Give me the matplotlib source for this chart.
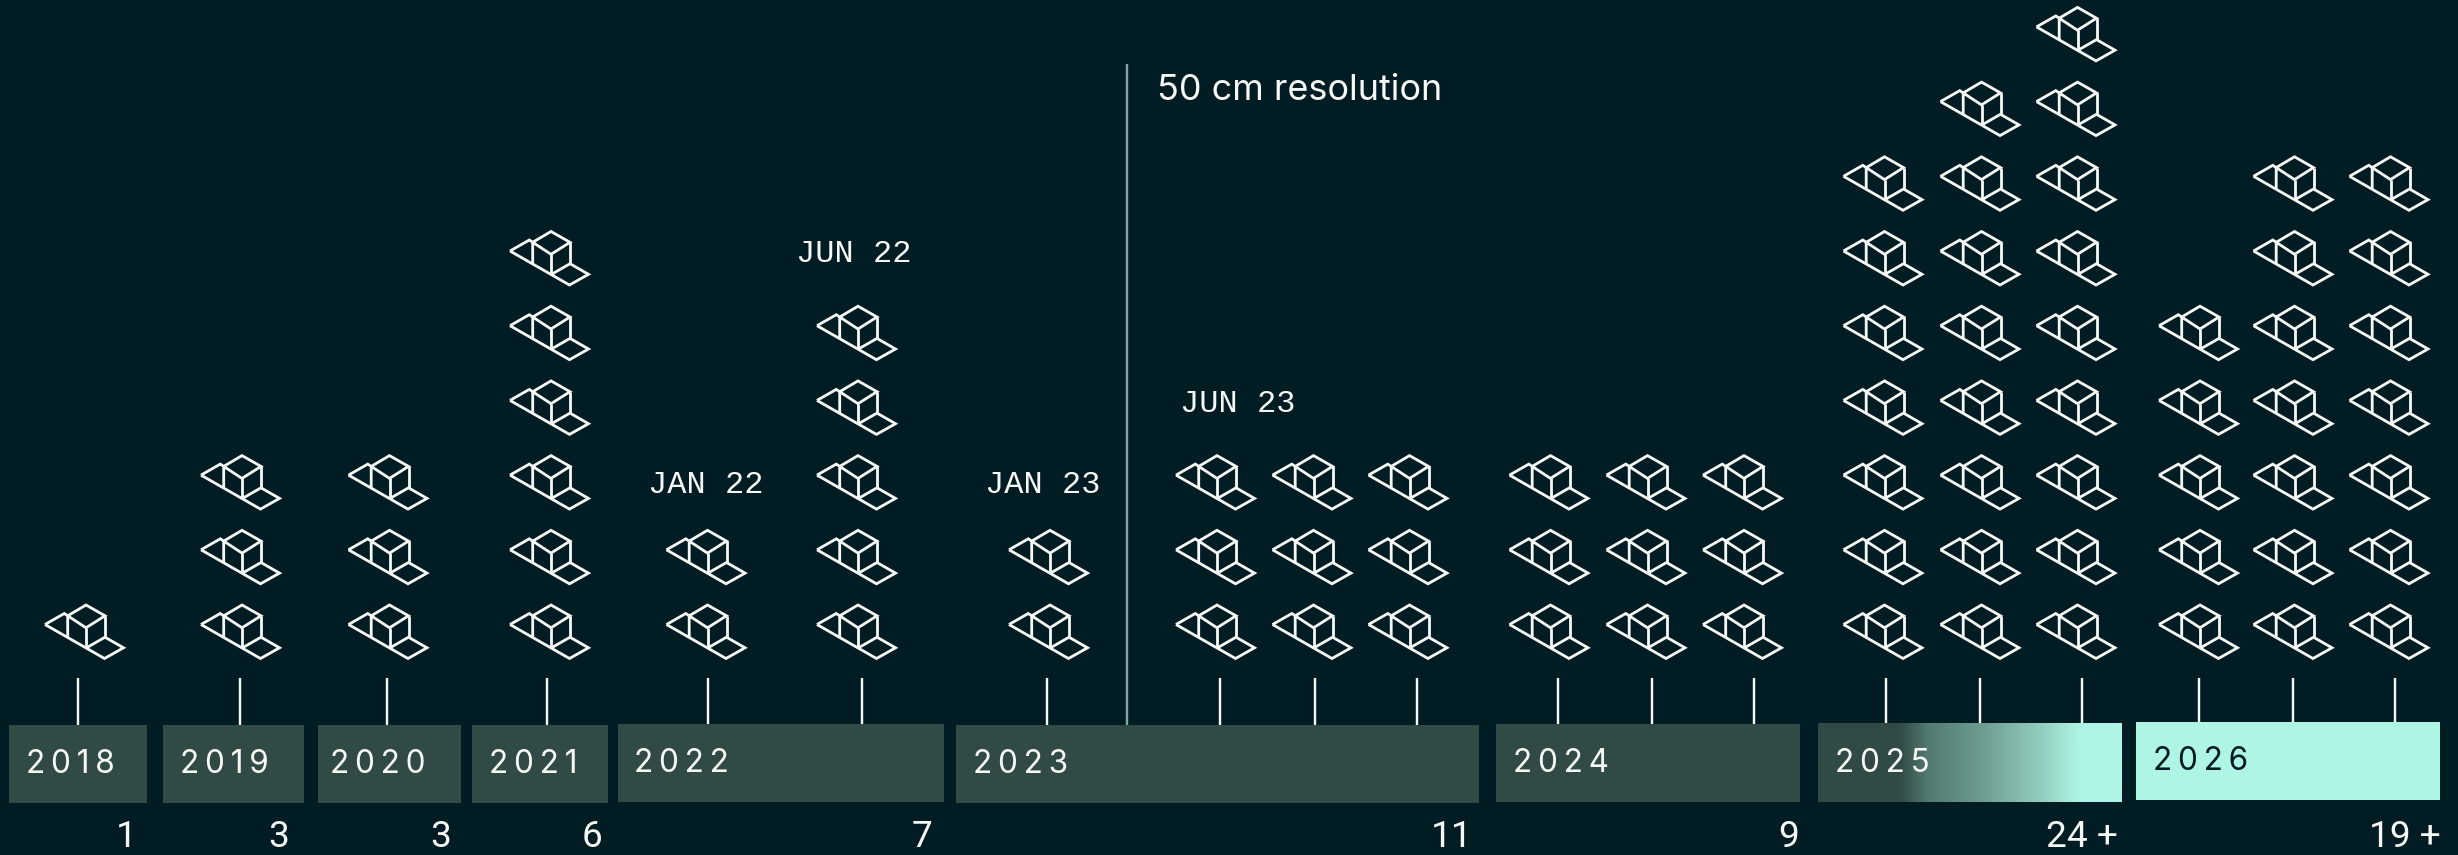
import numpy as np
import matplotlib
matplotlib.use("Agg")
import matplotlib.pyplot as plt
from matplotlib.colors import LinearSegmentedColormap

# ---- data ----
YEARS = ["2018", "2019", "2020", "2021", "2022", "2023", "2024", "2025", "2026"]
TOTALS = ["1", "3", "3", "6", "7", "11", "9", "24 +", "19 +"]
# satellites launched per launch event, per year
LAUNCHES = [[1], [3], [3], [6], [2, 5], [2, 3, 3, 3], [3, 3, 3], [7, 8, 9], [5, 7, 7]]
MONTHS = ["JAN 22", "JUN 22", "JAN 23", "JUN 23"]
NOTE = "50 cm resolution"

# ---- layout (pixels of the 2458x855 canvas) ----
W, H = 2458, 855
BAR_X0 = [9, 163, 318, 472, 618, 956, 1496, 1818, 2136]
BAR_X1 = [147, 304, 461, 608, 944, 1479, 1800, 2122, 2440]
BAR_Y0 = [724.5, 724.5, 724.5, 724.5, 723.5, 724.5, 723.5, 723.5, 721.5]
BAR_H = 78
YEAR_X = [26, 180, 330, 489, 634, 973, 1513, 1835, 2153]
YEAR_BASE = [773, 773, 773, 773, 772, 773, 772, 772, 770]
TOTAL_X = [137, 289, 451, 602, 932, 1473, 1799, 2118, 2441]
TICK_X = [[78], [240], [387], [547], [708, 862], [1046.5, 1220, 1314.5, 1416.5],
          [1558, 1652, 1754], [1886, 1980, 2082], [2199, 2293, 2395]]
TIP_X = [[45], [201], [348.5], [510], [666.5, 817], [1009, 1176, 1272.5, 1368.5],
         [1509.5, 1606.5, 1703], [1843.5, 1940.5, 2036.5], [2159, 2253.5, 2349.5]]
ROW0_Y, ROW_STEP = 624.5, 74.7
TICK_TOP = 677.5
MONTH_X = [648, 796, 985, 1180]
MONTH_BASE = [493, 262, 493, 412]
VLINE_X, VLINE_TOP = 1127, 64

BG = "#021c24"
BAR = "#314a45"
MINT = "#aef5e6"
INK = "#f6f8f6"
SANS = ["Inter", "DejaVu Sans"]
NUM = ["Roboto", "DejaVu Sans"]

# icon outline, relative to its left tip
ICON = [
    [(0, 0), (59.5, 34), (78.5, 23.3), (60, 12.7), (41.5, 23.3)],
    [(0, 0), (19.3, -11), (22.7, -8.7)],
    [(22.7, 12.7), (22.7, -8.7), (41, -19.5), (60, -8.7), (41, 3.3), (22.7, -8.7)],
    [(41, 3.3), (41, 23)],
    [(60, -8.7), (60, 12.7)],
]

fig = plt.figure(figsize=(W / 100, H / 100), dpi=100, facecolor=BG)
ax = fig.add_axes([0, 0, 1, 1], facecolor=BG)
ax.set_axis_off()


def px(v):
    return v * 72 / 100


# bars
for i, year in enumerate(YEARS):
    x0, x1, y0 = BAR_X0[i], BAR_X1[i], BAR_Y0[i]
    col = MINT if year == "2026" else BAR
    ax.bar(x0, BAR_H, width=x1 - x0, bottom=y0, align="edge", color=col, lw=0, zorder=3)

# 2025 gradient
stops = [(0, BAR), (0.27, BAR), (0.36, "#527a70"), (0.55, "#6f9f92"),
         (0.74, "#93cfc0"), (0.86, MINT), (1, MINT)]
cmap = LinearSegmentedColormap.from_list("fade", stops)
ax.imshow(np.linspace(0, 1, 304)[None, :], cmap=cmap, vmin=0, vmax=1, aspect="auto",
          extent=(BAR_X0[7], BAR_X1[7], BAR_Y0[7] + BAR_H, BAR_Y0[7]), zorder=4,
          interpolation="bilinear")

# ticks and icons
for i, counts in enumerate(LAUNCHES):
    for j, n in enumerate(counts):
        tx = TICK_X[i][j]
        ax.plot([tx, tx], [TICK_TOP, BAR_Y0[i] + 1], color=INK, lw=px(2.4), zorder=2,
                solid_capstyle="butt")
        for r in range(n):
            ox, oy = TIP_X[i][j], ROW0_Y - r * ROW_STEP
            for seg in ICON:
                xs = [ox + p[0] for p in seg]
                ys = [oy + p[1] for p in seg]
                ax.plot(xs, ys, color=INK, lw=px(2.8), solid_joinstyle="miter",
                        solid_capstyle="butt", zorder=5)

# 50 cm divider
ax.plot([VLINE_X, VLINE_X], [VLINE_TOP, BAR_Y0[5]], color="#7fa8a5", lw=px(2.4), zorder=2,
        solid_capstyle="butt")
ax.text(1157, 100.5, NOTE, color=INK, fontsize=px(36), family=SANS,
        ha="left", va="baseline")

# year labels with tracking
for i, year in enumerate(YEARS):
    col = BG if year == "2026" else INK
    ax.text(YEAR_X[i], YEAR_BASE[i], "\u2009".join(year), color=col, fontsize=px(31.5),
            family=SANS, ha="left", va="baseline", zorder=6)
    ax.text(TOTAL_X[i], 847, TOTALS[i], color=INK, fontsize=px(37), family=NUM,
            ha="right", va="baseline", zorder=6)

for lab, x, y in zip(MONTHS, MONTH_X, MONTH_BASE):
    ax.text(x, y, lab, color=INK, fontsize=px(32), family=["Liberation Mono", "DejaVu Sans Mono"],
            ha="left", va="baseline", zorder=6)

ax.set_xlim(0, W)
ax.set_ylim(H, 0)
fig.savefig("out.png", dpi=100, facecolor=BG)
